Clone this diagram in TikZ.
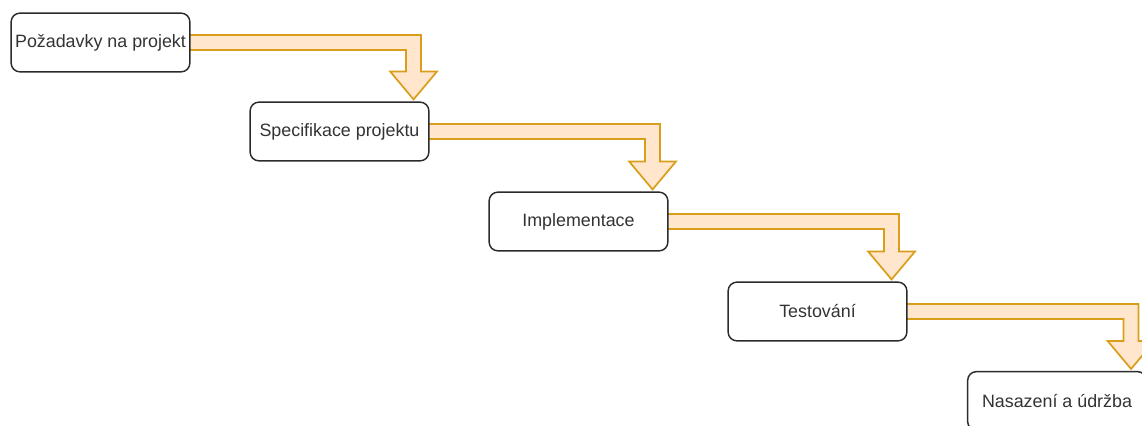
\documentclass[tikz,border=0pt]{standalone}
\usepackage{fontspec}
\setmainfont{Liberation Sans}
\usepackage{tikz}
\usetikzlibrary{calc, backgrounds}
\usepackage{xcolor}
\definecolor{flowfill}{HTML}{FFE6CC}
\definecolor{flowline}{HTML}{D99F1C}
\definecolor{boxline}{HTML}{2B2B2B}
\definecolor{boxtext}{HTML}{333333}

\begin{document}
\begin{tikzpicture}[
  x=0.75pt, y=-0.75pt,
  every node/.style={font=\fontsize{13.4}{16}\selectfont, text=boxtext},
  phase/.style={draw=boxline, line width=1.1pt, rounded corners=6.5pt,
    fill=white, minimum width=134pt, minimum height=44pt, inner sep=0pt}
]
\useasboundingbox (0,0) rectangle (1142,425);

% phases
\node[phase] (req)  at (100.5, 42.5)  {Požadavky na projekt};
\node[phase] (spec) at (339.5, 131.5) {Specifikace projektu};
\node[phase] (impl) at (578.5, 221.5) {Implementace};
\node[phase] (test) at (817.5, 311.5) {Testování};
\node[phase] (dep)  at (1057, 401)    {Nasazení a údržba};

% wide bent arrow: out of #1 to the right, down onto #2
\def\flow#1#2{%
  \path[fill=flowfill, draw=flowline, line width=1.3pt]
    let \p1=(#1.east), \p2=(#2.north east) in
    (\x1-2pt, \y1+5.6pt) -- (\x2-12pt+5.6pt, \y1+5.6pt)
    -- (\x2-12pt+5.6pt, \y2+22.5pt) -- (\x2-12pt+17.6pt, \y2+22.5pt)
    -- (\x2-12pt, \y2+1.5pt)
    -- (\x2-12pt-17.6pt, \y2+22.5pt) -- (\x2-12pt-5.6pt, \y2+22.5pt)
    -- (\x2-12pt-5.6pt, \y1-5.6pt) -- (\x1-2pt, \y1-5.6pt) -- cycle;
}

\begin{scope}[on background layer]
\flow{req}{spec}
\flow{spec}{impl}
\flow{impl}{test}
\flow{test}{dep}
\end{scope}
\end{tikzpicture}
\end{document}
